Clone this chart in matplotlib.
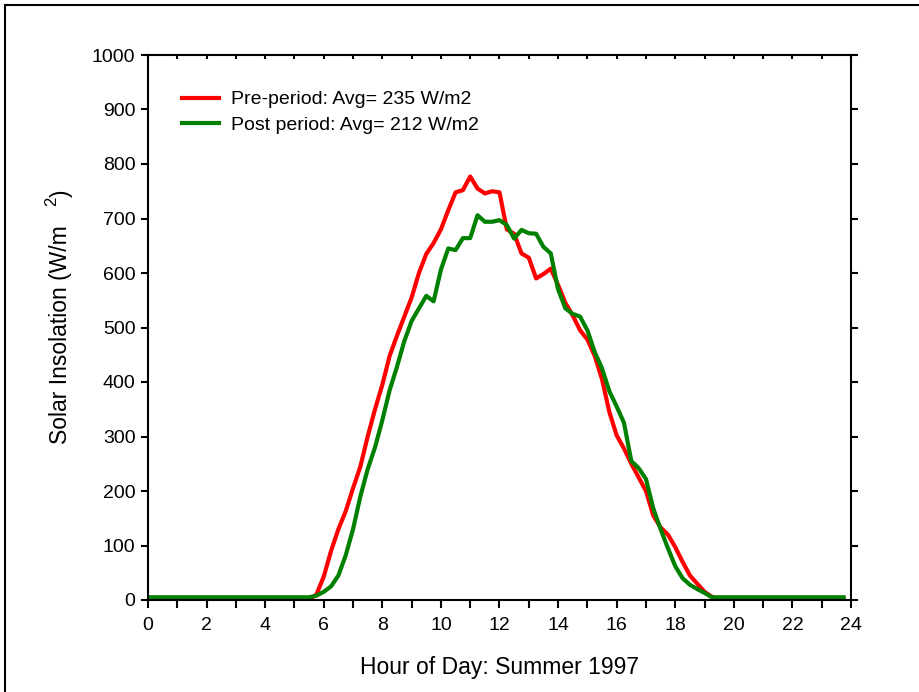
import numpy as np
import matplotlib
matplotlib.use("Agg")
import matplotlib.pyplot as plt
from matplotlib.patches import Rectangle

# hour of day, 15 minute steps
hours = np.arange(0, 24, 0.25)

# Pre-period insolation (W/m2)
pre_period = [1] * 23 + [
    10, 43, 90, 130, 163, 205, 245, 300, 350, 395,
    448, 485, 520, 555, 600, 635, 655, 680, 715, 748,
    752, 777, 755, 746, 750, 748, 680, 672, 636, 628,
    590, 598, 608, 578, 545, 522, 495, 478, 448, 405,
    345, 302, 278, 250, 225, 200, 155, 133, 120, 97,
    70, 45, 30, 15, 6] + [1] * 18

# Post period insolation (W/m2)
post_period = [5] * 23 + [
    8, 15, 25, 45, 82, 130, 190, 240, 280, 330,
    385, 428, 475, 512, 535, 558, 548, 606, 645, 642,
    664, 664, 706, 694, 694, 697, 688, 663, 679, 673,
    672, 648, 636, 570, 535, 525, 520, 495, 455, 425,
    383, 355, 325, 255, 242, 222, 168, 130, 95, 62,
    40, 28, 20, 13, 5] + [5] * 18

labels = ["Pre-period: Avg= 235 W/m2", "Post period: Avg= 212 W/m2"]
xticks = np.arange(0, 25, 2)
yticks = np.arange(0, 1001, 100)

plt.rcParams['font.family'] = ['Liberation Sans', 'DejaVu Sans']

fig = plt.figure(figsize=(9.2, 6.92), dpi=100)
ax = fig.add_axes([148 / 920, 1 - 600 / 692, 703 / 920, 545 / 692])

ax.plot(hours, pre_period, color='#ff0000', lw=3, label=labels[0])
ax.plot(hours, post_period, color='#008000', lw=3, label=labels[1])

ax.set_xlim(0, 24)
ax.set_ylim(0, 1000)
ax.set_xticks(xticks)
ax.set_xticks(np.arange(0, 25, 1), minor=True)
ax.set_yticks(yticks)

ax.tick_params(axis='x', which='both', direction='out', length=6, width=1.5,
               labelsize=14, top=False, pad=6)
ax.tick_params(axis='y', which='major', direction='out', length=5, width=1.5,
               labelsize=14, right=True, pad=4)
# small inward ticks on the top edge
sec = ax.secondary_xaxis('top')
sec.set_xticks(np.arange(0, 25, 1))
sec.tick_params(direction='in', length=3, width=1.5, labeltop=False)
sec.spines['top'].set_visible(False)

for s in ax.spines.values():
    s.set_linewidth(1.5)

ax.set_xlabel("Hour of Day: Summer 1997", fontsize=16.5, labelpad=16)

# y label with the raised "2" as in the original
fig.text(61 / 920, 1 - 335 / 692, "Solar Insolation (W/m", rotation=90,
         fontsize=16.5, ha='center', va='center')
fig.text(52 / 920, 1 - 201 / 692, "2", rotation=90, fontsize=12,
         ha='center', va='center')
fig.text(61 / 920, 1 - 193 / 692, ")", rotation=90, fontsize=16.5,
         ha='center', va='center')

leg = ax.legend(loc='upper left', bbox_to_anchor=(0.04, 0.945), frameon=False,
                fontsize=14, handlelength=1.9, handletextpad=0.6,
                labelspacing=0.42, borderaxespad=0, borderpad=0.3)

# outer frame
fig.patches.append(Rectangle((5 / 920, -0.1), 1.2, 1.1 - 5 / 692,
                             transform=fig.transFigure, fill=False,
                             edgecolor='black', lw=1.5))

fig.savefig("out.png", dpi=100)
